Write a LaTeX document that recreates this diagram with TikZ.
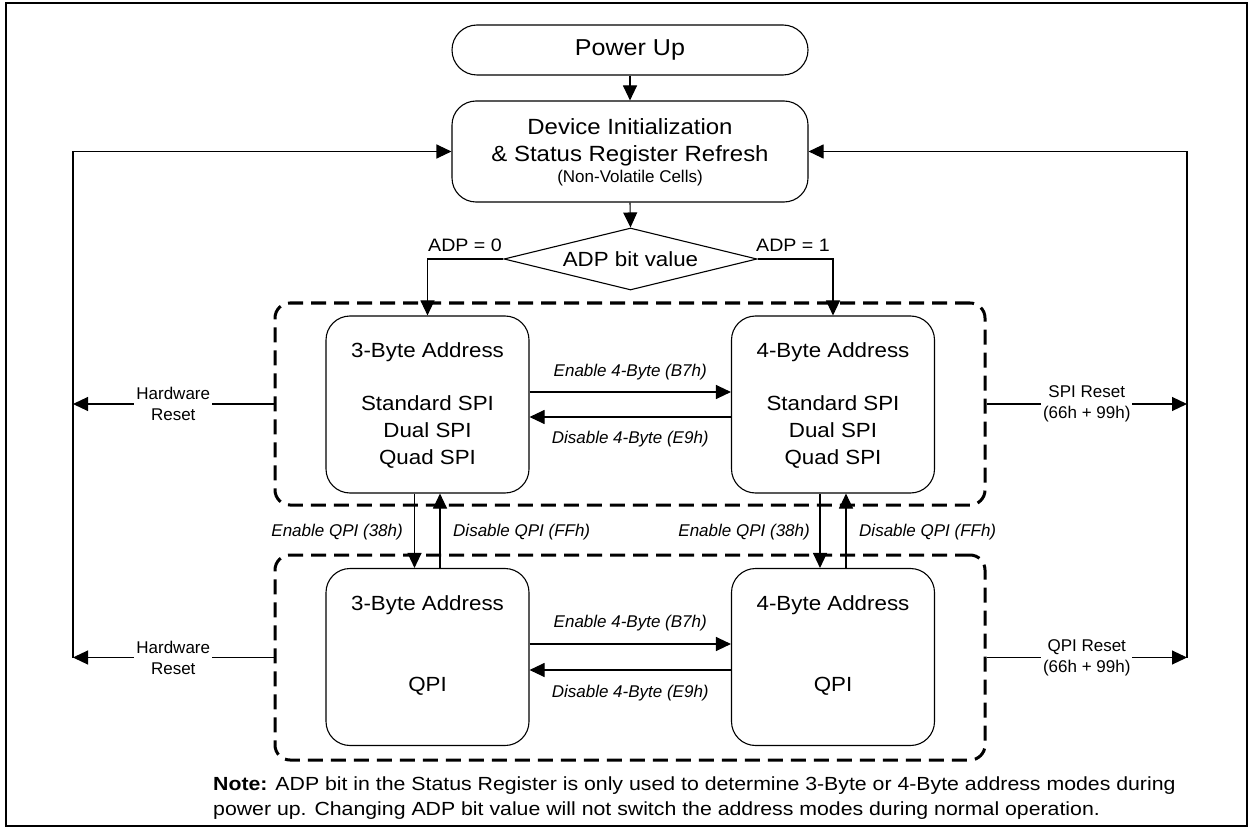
\documentclass[tikz,border=0pt]{standalone}
\usepackage{fontspec}
\setmainfont{Liberation Sans}
\newfontfamily\widefont{Liberation Sans}[FakeStretch=1.09]
\newfontfamily\notefont{Liberation Sans}[FakeStretch=1.12]
\usetikzlibrary{arrows.meta,shapes.geometric,calc}
\begin{document}
\begin{tikzpicture}[x=1pt,y=-1pt,
  ln/.style={line width=1.1pt},
  arr/.style={ln,-{Triangle[length=15pt,width=14pt]}},
  dbox/.style={draw,line width=3pt,dash pattern=on 15pt off 8pt,rounded corners=15pt,minimum width=710pt,inner sep=0pt},
  sbox/.style={draw,line width=1.1pt,rounded corners=24pt,minimum width=203pt,minimum height=177pt,inner sep=0pt},
  ftbig/.style={font=\widefont\fontsize{22}{27}\selectfont},
  ftbox/.style={font=\widefont\fontsize{20.5}{27}\selectfont},
  ftsm/.style={font=\fontsize{17}{21}\selectfont},
  ftit/.style={font=\fontsize{17}{21}\selectfont\itshape,inner sep=0pt},
  txt/.style={ftbox,inner sep=0pt,anchor=base},
  rlbl/.style={ftsm,fill=white,align=center,inner sep=2pt},
  notetxt/.style={font=\notefont\fontsize{19}{25}\selectfont,inner sep=0pt,anchor=base west},
]
\useasboundingbox (0,0) rectangle (1251,829);
\draw[line width=2.5pt] (6,3) rectangle (1247,826);

% containers
\node[dbox,minimum height=202pt] (ucont) at (630,404) {};
\node[dbox,minimum height=205pt] (lcont) at (630,657.5) {};

% top nodes
\node[draw,ln,rounded corners=25pt,minimum width=356pt,minimum height=50pt,inner sep=0pt,font=\widefont\fontsize{23}{28}\selectfont] (pu) at (630,50) {Power Up};
\node[draw,ln,rounded corners=24pt,minimum width=356pt,minimum height=101pt,inner sep=0pt] (dev) at (630,151.5) {};
\node[ftbig,inner sep=0pt,anchor=base] (dev1) at (630,135) {Device Initialization};
\node[ftbig,inner sep=0pt,anchor=base] (dev2) at (630,161.7) {\& Status Register Refresh};
\node[ftsm,inner sep=0pt,anchor=base] (dev3) at (630,182.7) {(Non-Volatile Cells)};
\node[draw,ln,diamond,aspect=4,minimum width=253pt,minimum height=62pt,inner sep=0pt,font=\widefont\fontsize{20.5}{25}\selectfont] (dia) at (630.5,259) {ADP bit value};

% mode boxes
\node[sbox] (ub3) at (427.5,404.5) {};
\node[sbox] (ub4) at (833,404.5) {};
\node[sbox] (lb3) at (427.5,657) {};
\node[sbox] (lb4) at (833,657) {};

\node[txt] (ub3a) at (427.5,357) {3-Byte Address};
\node[txt] (ub3b) at (427.5,410.7) {Standard SPI};
\node[txt] (ub3c) at (427.5,437.5) {Dual SPI};
\node[txt] (ub3d) at (427.5,464.3) {Quad SPI};
\node[txt] (ub4a) at (833,357) {4-Byte Address};
\node[txt] (ub4b) at (833,410.7) {Standard SPI};
\node[txt] (ub4c) at (833,437.5) {Dual SPI};
\node[txt] (ub4d) at (833,464.3) {Quad SPI};
\node[txt] (lb3a) at (427.5,610) {3-Byte Address};
\node[txt] (lb3b) at (427.5,691.7) {QPI};
\node[txt] (lb4a) at (833,610) {4-Byte Address};
\node[txt] (lb4b) at (833,691.7) {QPI};

% flow
\draw[arr] (pu.south) -- (dev.north);
\draw[arr] (dev.south) -- (dia.north);
\draw[arr] (dia.west) -| (ub3.north);
\draw[arr] (dia.east) -| (ub4.north);
\node[font=\widefont\fontsize{18}{22}\selectfont,inner sep=0pt,anchor=base west] (adp0) at (428,251.7) {ADP = 0};
\node[font=\widefont\fontsize{18}{22}\selectfont,inner sep=0pt,anchor=base east] (adp1) at (830,251.7) {ADP = 1};

% 3/4 byte transitions
\draw[arr] ([yshift=12.5pt]ub3.east) -- node[ftit,above=11pt] (e4u) {Enable 4-Byte (B7h)} ([yshift=12.5pt]ub4.west);
\draw[arr] ([yshift=-12.5pt]ub4.west) -- node[ftit,below=14pt] (d4u) {Disable 4-Byte (E9h)} ([yshift=-12.5pt]ub3.east);
\draw[arr] ([yshift=13pt]lb3.east) -- node[ftit,above=12pt] (e4l) {Enable 4-Byte (B7h)} ([yshift=13pt]lb4.west);
\draw[arr] ([yshift=-13pt]lb4.west) -- node[ftit,below=14.5pt] (d4l) {Disable 4-Byte (E9h)} ([yshift=-13pt]lb3.east);

% QPI transitions
\draw[arr] ([xshift=-13pt]ub3.south) -- ([xshift=-13pt]lb3.north);
\draw[arr] ([xshift=12.5pt]lb3.north) -- ([xshift=12.5pt]ub3.south);
\draw[arr] ([xshift=-13pt]ub4.south) -- ([xshift=-13pt]lb4.north);
\draw[arr] ([xshift=13pt]lb4.north) -- ([xshift=13pt]ub4.south);
\node[ftit,anchor=base east] (eq3) at (403,536.7) {Enable QPI (38h)};
\node[ftit,anchor=base west] (dq3) at (453,536.7) {Disable QPI (FFh)};
\node[ftit,anchor=base east] (eq4) at (810,536.7) {Enable QPI (38h)};
\node[ftit,anchor=base west] (dq4) at (859,536.7) {Disable QPI (FFh)};

% resets and rails
\coordinate (lt) at (73,151.5);
\coordinate (rt) at (1187,151.5);
\coordinate (lb) at (lcont.west -| lt);
\coordinate (rb) at (lcont.east -| rt);
\draw[arr] (lb) -- (lt) -- (dev.west);
\draw[arr] (rb) -- (rt) -- (dev.east);
\draw[arr] (ucont.west) -- node[rlbl] (hw1) {Hardware\\Reset} (ucont.west -| lt);
\draw[arr] (lcont.west) -- node[rlbl] (hw2) {Hardware\\Reset} (lb);
\draw[arr] (ucont.east) -- node[rlbl] (spir) {SPI Reset\\(66h + 99h)} (ucont.east -| rt);
\draw[arr] (lcont.east) -- node[rlbl] (qpir) {QPI Reset\\(66h + 99h)} (rb);

% note
\node[notetxt] (note1) at (213,790) {\textbf{Note:} ADP bit in the Status Register is only used to determine 3-Byte or 4-Byte address modes during};
\node[notetxt] (note2) at (213,815) {power up. Changing ADP bit value will not switch the address modes during normal operation.};
\end{tikzpicture}
\end{document}
